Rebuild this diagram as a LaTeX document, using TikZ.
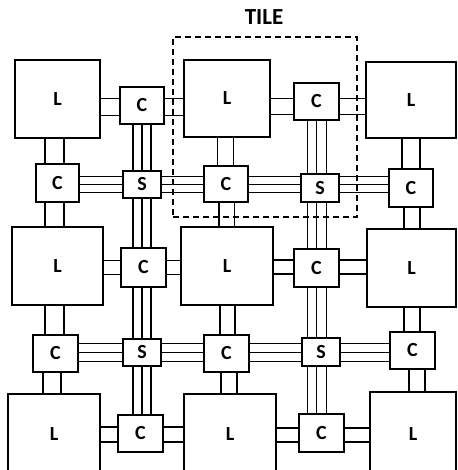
\documentclass[tikz,border=0pt]{standalone}
\usepackage{fontspec}
\setmainfont{Carlito}
\usetikzlibrary{calc}
\tikzset{
  blk/.style={draw, line width=1.8pt, inner sep=0pt, outer sep=0pt, fill=white,
    font=\fontsize{20}{24}\selectfont\bfseries},
  conn/.style={line width=1.8pt},
  tilebox/.style={draw, line width=1.6pt, dash pattern=on 6pt off 4pt, inner sep=0pt}
}
\newcommand\hlines[4]{\foreach \o in {#4}{\draw[conn] ($(#1.east |- #3.center)+(0,\o)$) -- ($(#2.west |- #3.center)+(0,\o)$);}}
\newcommand\vlines[4]{\foreach \o in {#4}{\draw[conn] ($(#1.south -| #3.center)+(\o,0)$) -- ($(#2.north -| #3.center)+(\o,0)$);}}
\newcommand\blkn[6]{\node[blk, minimum width=#4pt, minimum height=#5pt] (#1) at (#2,#3) {#6};}
\begin{document}
\begin{tikzpicture}[x=1pt,y=-1pt]
\useasboundingbox (0,0) rectangle (457,470);
\clip (0,0) rectangle (457,470);
% row a
\blkn{L11}{57.5}{99}{85}{78}{L}
\blkn{C12}{142}{105.5}{44}{37}{C}
\blkn{L13}{227}{98.5}{86}{77}{L}
\blkn{C14}{316.5}{101.5}{45}{37}{C}
\blkn{L15}{411}{100}{90}{76}{L}
% row b
\blkn{C21}{57.5}{183}{43}{38}{C}
\blkn{S22}{142}{184.5}{38}{27}{S}
\blkn{C23}{226}{184}{44}{36}{C}
\blkn{S24}{320}{188}{38}{28}{S}
\blkn{C25}{411}{188}{44}{38}{C}
% row c
\blkn{L31}{57.5}{266}{91}{78}{L}
\blkn{C32}{143.5}{267.5}{45}{39}{C}
\blkn{L33}{227}{266}{92}{78}{L}
\blkn{C34}{316.5}{268}{45}{38}{C}
\blkn{L35}{411.5}{268}{89}{78}{L}
% row d
\blkn{C41}{55.5}{353.5}{45}{37}{C}
\blkn{S42}{142}{352.5}{38}{27}{S}
\blkn{C43}{226.5}{353.5}{45}{37}{C}
\blkn{S44}{321}{352}{38}{28}{S}
\blkn{C45}{412.5}{350.5}{45}{37}{C}
% row e
\node[blk, minimum width=92pt, minimum height=86pt] (L51) at (54,437) {\raisebox{6pt}{L}};
\blkn{C52}{140.5}{433.5}{45}{37}{C}
\node[blk, minimum width=92pt, minimum height=86pt] (L53) at (230,437) {\raisebox{6pt}{L}};
\blkn{C54}{321.5}{433}{45}{38}{C}
\node[blk, minimum width=86pt, minimum height=88pt] (L55) at (413,436) {\raisebox{3pt}{L}};
% row a horizontal pairs
\hlines{L11}{C12}{C12}{-7,10}
\hlines{C12}{L13}{C12}{-7,10}
\hlines{L13}{C14}{C14}{-3,13}
\hlines{C14}{L15}{C14}{-3,13}
% verticals a-b
\vlines{L11}{C21}{C21}{-12.5,6.5}
\vlines{L13}{C23}{C23}{-8.5,7.5}
\vlines{L15}{C25}{C25}{-9,9}
\vlines{C12}{S22}{S22}{-9,0,9}
\vlines{C14}{S24}{C14}{-9,0,10}
% row b horizontals
\hlines{C21}{S22}{S22}{-8,0,8}
\hlines{S22}{C23}{S22}{-8,0,8}
\hlines{C23}{S24}{S22}{-8,0,8}
\hlines{S24}{C25}{S22}{-8,0,8}
% verticals b-c
\vlines{C21}{L31}{C21}{-12.5,6.5}
\vlines{C23}{L33}{C23}{-7,8.5}
\vlines{C25}{L35}{C25}{-7,9}
\vlines{S22}{C32}{S22}{-9,0,9}
\vlines{S24}{C34}{C14}{-9,0,10}
% row c horizontals
\hlines{L31}{C32}{C32}{-7,7}
\hlines{C32}{L33}{C32}{-7,7}
\hlines{L33}{C34}{C34}{-8,6}
\hlines{C34}{L35}{C34}{-8,6}
% verticals c-d
\vlines{L31}{C41}{C41}{-10.5,8.5}
\vlines{L33}{C43}{C43}{-6.5,8.5}
\vlines{L35}{C45}{C45}{-8.5,7.5}
\vlines{C32}{S42}{S42}{-9,0,9}
\vlines{C34}{S44}{C34}{-9,0,10}
% row d horizontals
\hlines{C41}{S42}{S42}{-9,0,9}
\hlines{S42}{C43}{S42}{-9,0,9}
\hlines{C43}{S44}{S42}{-9,0,9}
\hlines{S44}{C45}{S42}{-9,0,9}
% verticals d-e
\vlines{C41}{L51}{C41}{-12.5,5.5}
\vlines{C43}{L53}{C43}{-5.5,10.5}
\vlines{C45}{L55}{C45}{-3.5,12.5}
\vlines{S42}{C52}{S42}{-9,0,9}
\vlines{S44}{C54}{C34}{-9,0,10}
% row e horizontals
\hlines{L51}{C52}{C52}{-6.5,8.5}
\hlines{C52}{L53}{C52}{-6.5,8.5}
\hlines{L53}{C54}{C54}{-5,9}
\hlines{C54}{L55}{C54}{-5,9}
% tile
\node[tilebox, minimum width=184pt, minimum height=180pt] (tile) at (265,127) {};
\node[font=\fontsize{23}{27}\selectfont\bfseries, inner sep=0pt] (tilelbl) at (264,17) {TILE};
\end{tikzpicture}
\end{document}
